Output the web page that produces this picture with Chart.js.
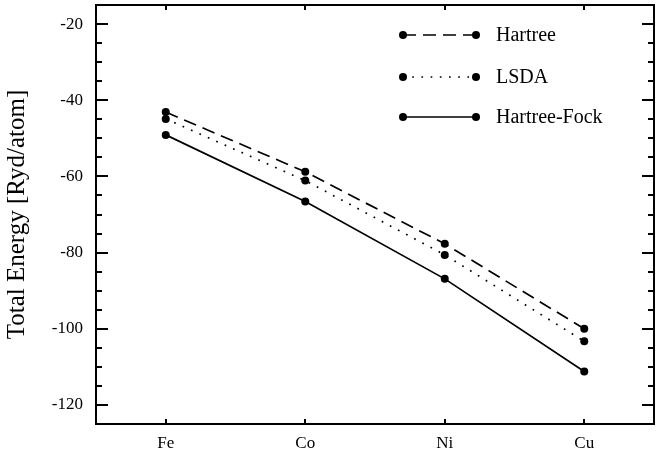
<!DOCTYPE html>
<html>
<head>
<meta charset="utf-8">
<script src="https://cdn.jsdelivr.net/npm/chart.js@4"></script>
<style>
  html, body { margin: 0; padding: 0; background: #fff; }
  #wrap { width: 663px; height: 457px; }
</style>
</head>
<body>
<div id="wrap"><canvas id="myChart" width="663" height="457"></canvas></div>
<script>
// Start Data
const ELEMENTS = ['Fe', 'Co', 'Ni', 'Cu'];
const HARTREE = [-43.1, -58.8, -77.7, -100.0];
const LSDA = [-44.9, -61.1, -80.6, -103.3];
const HARTREE_FOCK = [-49.1, -66.6, -86.9, -111.2];
const Y_LABELS = [-20, -40, -60, -80, -100, -120];
// !!End Data

const SERIF = "'Liberation Serif', 'DejaVu Serif', serif";

function toPoints(values) {
    return values.map(function (v, i) { return { x: i, y: v }; });
}

// Start Frame + inward ticks
const framePlugin = {
    id: 'frame',
    afterDraw: function (chart) {
        const c = chart.ctx;
        const a = chart.chartArea;
        const ys = chart.scales.y;
        const xs = chart.scales.x;
        c.save();
        c.strokeStyle = '#000';
        c.lineWidth = 2;
        c.strokeRect(a.left, a.top, a.right - a.left, a.bottom - a.top);
        c.beginPath();
        ys.ticks.forEach(function (t) {
            const py = Math.round(ys.getPixelForValue(t.value));
            const len = (t.value % 20 === 0) ? 12 : 6;
            c.moveTo(a.left, py); c.lineTo(a.left + len, py);
            c.moveTo(a.right, py); c.lineTo(a.right - len, py);
        });
        xs.ticks.forEach(function (t) {
            const px = Math.round(xs.getPixelForValue(t.value));
            c.moveTo(px, a.bottom); c.lineTo(px, a.bottom - 5);
            c.moveTo(px, a.top); c.lineTo(px, a.top + 5);
        });
        c.stroke();
        c.restore();
    }
};
// !!End Frame

// Start Legend
const legendRows = [35, 77, 117];
const legendPlugin = {
    id: 'lineLegend',
    afterDraw: function (chart) {
        const c = chart.ctx;
        c.save();
        chart.data.datasets.forEach(function (ds, i) {
            const y = legendRows[i];
            c.strokeStyle = '#000';
            c.lineWidth = ds.borderWidth;
            c.setLineDash(ds.borderDash || []);
            c.beginPath();
            c.moveTo(403, y); c.lineTo(476, y);
            c.stroke();
            c.setLineDash([]);
            c.fillStyle = '#000';
            [403, 476].forEach(function (x) {
                c.beginPath();
                c.arc(x, y, 4, 0, Math.PI * 2);
                c.fill();
            });
            c.font = '20px ' + SERIF;
            c.textBaseline = 'middle';
            c.fillText(ds.label, 496, y + 1);
        });
        c.restore();
    }
};
// !!End Legend

function lineSet(label, values, dash) {
    return {
        label: label,
        data: toPoints(values),
        borderColor: '#000',
        backgroundColor: '#000',
        borderWidth: 1.7,
        borderDash: dash,
        pointRadius: 4,
        pointBackgroundColor: '#000',
        pointBorderWidth: 0,
        fill: false,
        tension: 0
    };
}

const ctx = document.getElementById('myChart').getContext('2d');
new Chart(ctx, {
    type: 'line',
    data: {
        datasets: [
            lineSet('Hartree', HARTREE, [13, 7]),
            lineSet('LSDA', LSDA, [1.7, 7.5]),
            lineSet('Hartree-Fock', HARTREE_FOCK, [])
        ]
    },
    plugins: [framePlugin, legendPlugin],
    options: {
        responsive: false,
        animation: false,
        devicePixelRatio: 1,
        layout: { padding: { top: 5, right: 9, left: 0, bottom: 0 } },
        plugins: {
            legend: { display: false },
            tooltip: { enabled: false }
        },
        scales: {
            x: {
                type: 'linear',
                min: -0.5,
                max: 3.5,
                grid: { display: false, drawTicks: false },
                border: { display: false },
                afterBuildTicks: function (scale) {
                    scale.ticks = ELEMENTS.map(function (e, i) { return { value: i }; });
                },
                ticks: {
                    padding: 9,
                    color: '#000',
                    font: { size: 17, family: SERIF },
                    callback: function (v) { return ELEMENTS[v]; }
                },
                afterFit: function (scale) {
                    scale.height = 33;
                    scale.paddingLeft = 0;
                    scale.paddingRight = 0;
                }
            },
            y: {
                min: -125,
                max: -15,
                grid: { display: false, drawTicks: false },
                border: { display: false },
                ticks: {
                    stepSize: 5,
                    autoSkip: false,
                    padding: 13,
                    color: '#000',
                    font: { size: 17, family: SERIF },
                    callback: function (v) { return Y_LABELS.indexOf(v) >= 0 ? String(v) : ''; }
                },
                title: {
                    display: true,
                    text: 'Total Energy [Ryd/atom]',
                    color: '#000',
                    font: { size: 25, family: SERIF },
                    padding: { top: 2, bottom: 4 }
                },
                afterFit: function (scale) {
                    scale.width = 96;
                    scale.paddingTop = 0;
                    scale.paddingBottom = 0;
                }
            }
        }
    }
});
</script>
</body>
</html>
